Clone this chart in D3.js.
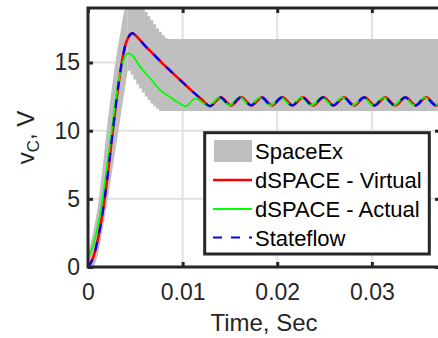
<!DOCTYPE html>
<html>
<head>
<meta charset="utf-8">
<script src="https://cdn.jsdelivr.net/npm/d3@7"></script>
<style>
  body { margin: 0; background: #fff; }
  svg { display: block; font-family: "Liberation Sans", Arial, Helvetica, sans-serif; }
</style>
</head>
<body>
<div id="chart"></div>
<script>
// ticks
const xTicks = [0, 0.01, 0.02, 0.03];
const yTicks = [0, 5, 10, 15];
const legendLabels = ["SpaceEx", "dSPACE - Virtual", "dSPACE - Actual", "Stateflow"];

// SpaceEx reach set: smooth rising part
const riseT  = [0, 0.0005, 0.001, 0.0015, 0.002, 0.0025, 0.003, 0.0035, 0.0039, 0.0042];
const riseLo = [0, 0, 0.8, 2.6, 4.6, 6.8, 9.0, 11.3, 13.1, 14.4];
const riseHi = [1.0, 2.4, 4.3, 7.0, 10.2, 13.0, 15.5, 17.5, 19.0, 19.5];

// SpaceEx reach set: stair part (step after)
const stepT  = [0.0042, 0.0045, 0.0048, 0.0051, 0.0054, 0.0057, 0.0060, 0.0063, 0.0066, 0.0069, 0.0072, 0.0075, 0.0078, 0.0081, 0.0084, 0.0372];
const stepLo = [14.4, 14.1, 13.75, 13.4, 13.1, 12.8, 12.5, 12.25, 12.0, 11.8, 11.6, 11.45, 11.45, 11.45, 11.45, 11.45];
const stepHi = [19.5, 19.5, 19.5, 19.5, 19.5, 18.95, 18.7, 18.4, 18.1, 17.8, 17.5, 17.25, 17.0, 16.8, 16.72, 16.72];

// dSPACE - Virtual
const virtT = [0, 0.0005, 0.001, 0.0015, 0.002, 0.0025, 0.003, 0.0035, 0.004, 0.0044, 0.0047, 0.005, 0.006, 0.007, 0.008, 0.009, 0.010, 0.011, 0.012, 0.0129,
  0.01403, 0.01512, 0.0162, 0.01729, 0.01837, 0.01946, 0.02054, 0.02163, 0.02271, 0.0238, 0.02488, 0.02597, 0.02705, 0.02814, 0.02922, 0.03031, 0.03139, 0.03248, 0.03356, 0.03465, 0.03573, 0.03682, 0.0372];
const virtV = [0, 0.6, 1.9, 3.8, 6.3, 9.3, 12.2, 14.7, 16.4, 17.0, 17.15, 17.0, 16.25, 15.55, 14.85, 14.2, 13.55, 12.9, 12.3, 11.8,
  12.44, 11.85, 12.44, 11.85, 12.44, 11.85, 12.44, 11.85, 12.44, 11.85, 12.44, 11.85, 12.44, 11.85, 12.44, 11.85, 12.44, 11.85, 12.44, 11.85, 12.44, 11.85, 12.0];

// dSPACE - Actual
const actT = [0, 0.0005, 0.001, 0.0015, 0.002, 0.0025, 0.003, 0.0035, 0.0039, 0.0043, 0.0047, 0.0055, 0.0065, 0.0076, 0.0087, 0.0097, 0.01034, 0.01132, 0.0128,
  0.01386, 0.01495, 0.01603, 0.01712, 0.0182, 0.01929, 0.02037, 0.02146, 0.02254, 0.02363, 0.02471, 0.0258, 0.02688, 0.02797, 0.02905, 0.03014, 0.03122, 0.03231, 0.03339, 0.03448, 0.03556, 0.03665, 0.0372];
const actV = [0.7, 1.5, 2.9, 4.8, 7.3, 10.0, 12.6, 14.6, 15.4, 15.67, 15.5, 14.7, 13.9, 13.0, 12.45, 12.0, 11.78, 12.35, 11.82,
  12.44, 11.85, 12.44, 11.85, 12.44, 11.85, 12.44, 11.85, 12.44, 11.85, 12.44, 11.85, 12.44, 11.85, 12.44, 11.85, 12.44, 11.85, 12.44, 11.85, 12.44, 11.85, 12.1];

// Stateflow
const sfT = [0, 0.0005, 0.001, 0.0015, 0.002, 0.0025, 0.003, 0.0035, 0.004, 0.0044, 0.0047, 0.005, 0.006, 0.007, 0.008, 0.009, 0.010, 0.011, 0.012, 0.0129,
  0.01397, 0.01506, 0.01614, 0.01723, 0.01831, 0.0194, 0.02048, 0.02157, 0.02265, 0.02374, 0.02482, 0.02591, 0.02699, 0.02808, 0.02916, 0.03025, 0.03133, 0.03242, 0.0335, 0.03459, 0.03567, 0.03676, 0.0372];
const sfV = [0, 0.6, 1.9, 3.8, 6.3, 9.3, 12.2, 14.7, 16.4, 17.0, 17.15, 17.0, 16.25, 15.55, 14.85, 14.2, 13.55, 12.9, 12.3, 11.8,
  12.44, 11.85, 12.44, 11.85, 12.44, 11.85, 12.44, 11.85, 12.44, 11.85, 12.44, 11.85, 12.44, 11.85, 12.44, 11.85, 12.44, 11.85, 12.44, 11.85, 12.44, 11.85, 12.02];

const W = 438, H = 338;
const plot = { left: 88, right: 440, top: 8, bottom: 267 };
const ink = "#262626";

const x = d3.scaleLinear().domain([0, 0.0372]).range([plot.left, plot.right]);
const y = d3.scaleLinear().domain([0, 19]).range([plot.bottom, plot.top]);

const svg = d3.select("#chart").append("svg")
  .attr("width", W).attr("height", H);

svg.append("defs").append("clipPath").attr("id", "plotClip")
  .append("rect")
  .attr("x", plot.left).attr("y", plot.top)
  .attr("width", plot.right - plot.left).attr("height", plot.bottom - plot.top);

/* grid (under data) */
const grid = svg.append("g");
grid.selectAll(".gx").data(xTicks.slice(1)).enter().append("line")
  .attr("x1", d => x(d)).attr("x2", d => x(d))
  .attr("y1", plot.top).attr("y2", plot.bottom)
  .attr("stroke", "#e1e1e1").attr("stroke-width", 2);
grid.selectAll(".gy").data(yTicks.slice(1)).enter().append("line")
  .attr("x1", plot.left).attr("x2", plot.right)
  .attr("y1", d => y(d)).attr("y2", d => y(d))
  .attr("stroke", "#e1e1e1").attr("stroke-width", 2);

/* axes */
function styleAxis(g) {
  g.attr("font-family", null).attr("font-size", 23);
  g.select(".domain").remove();
  g.selectAll(".tick line").attr("stroke", ink).attr("stroke-width", 3);
  g.selectAll(".tick text").attr("fill", ink);
}
svg.append("g")
  .attr("transform", `translate(0,${plot.bottom})`)
  .call(d3.axisBottom(x).tickValues(xTicks).tickFormat(d => String(d))
    .tickSizeInner(-5).tickSizeOuter(0).tickPadding(17))
  .call(styleAxis);
svg.append("g")
  .attr("transform", `translate(${plot.left},0)`)
  .call(d3.axisLeft(y).tickValues(yTicks).tickFormat(d => String(d))
    .tickSizeInner(-5).tickSizeOuter(0).tickPadding(8))
  .call(styleAxis);
svg.append("g")
  .attr("transform", `translate(0,${plot.top})`)
  .call(d3.axisTop(x).tickValues(xTicks).tickFormat("")
    .tickSizeInner(-5).tickSizeOuter(0))
  .call(styleAxis);
svg.append("g")
  .attr("transform", `translate(${plot.right},0)`)
  .call(d3.axisRight(y).tickValues(yTicks).tickFormat("")
    .tickSizeInner(-5).tickSizeOuter(0))
  .call(styleAxis);

/* data */
const data = svg.append("g").attr("clip-path", "url(#plotClip)");

const rise = riseT.map((t, i) => ({ t: t, lo: riseLo[i], hi: riseHi[i] }));
const steps = stepT.map((t, i) => ({ t: t, lo: stepLo[i], hi: stepHi[i] }));

data.append("path")
  .datum(rise)
  .attr("fill", "#bfbfbf")
  .attr("d", d3.area().x(d => x(d.t)).y0(d => y(d.lo)).y1(d => y(d.hi)).curve(d3.curveMonotoneX));
data.append("path")
  .datum(steps)
  .attr("fill", "#bfbfbf")
  .attr("d", d3.area().x(d => x(d.t)).y0(d => y(d.lo)).y1(d => y(d.hi)).curve(d3.curveStepAfter));

const line = d3.line().x(d => x(d[0])).y(d => y(d[1])).curve(d3.curveMonotoneX);

data.append("path")
  .datum(virtT.map((t, i) => [t, virtV[i]]))
  .attr("fill", "none").attr("stroke", "#ff0000").attr("stroke-width", 2.6)
  .attr("d", line);
data.append("path")
  .datum(actT.map((t, i) => [t, actV[i]]))
  .attr("fill", "none").attr("stroke", "#00ff00").attr("stroke-width", 1.8)
  .attr("d", line);
data.append("path")
  .datum(sfT.map((t, i) => [t, sfV[i]]))
  .attr("fill", "none").attr("stroke", "#0000ff").attr("stroke-width", 2.2)
  .attr("stroke-dasharray", "9,9")
  .attr("d", line);

/* box on top */
svg.append("rect")
  .attr("x", plot.left).attr("y", plot.top)
  .attr("width", plot.right - plot.left).attr("height", plot.bottom - plot.top)
  .attr("fill", "none").attr("stroke", ink).attr("stroke-width", 3);

/* labels */
svg.append("text")
  .attr("x", (plot.left + plot.right) / 2).attr("y", 330.5)
  .attr("text-anchor", "middle").attr("font-size", 24).attr("fill", ink)
  .text("Time, Sec");

const ylab = svg.append("text")
  .attr("transform", `translate(34,${(plot.top + plot.bottom) / 2}) rotate(-90)`)
  .attr("text-anchor", "middle").attr("font-size", 24).attr("fill", ink);
ylab.append("tspan").text("v");
ylab.append("tspan").attr("font-size", 17).attr("dy", 5).text("C");
ylab.append("tspan").attr("dy", -5).text(", V");

/* legend */
const lg = svg.append("g");
lg.append("rect")
  .attr("x", 204.7).attr("y", 132.7).attr("width", 224.6).attr("height", 121.3)
  .attr("fill", "#fff").attr("stroke", ink).attr("stroke-width", 3);
const rowY = [151, 180, 209, 237.5];
lg.append("rect").attr("x", 214).attr("y", rowY[0] - 11).attr("width", 38).attr("height", 22)
  .attr("fill", "#bfbfbf");
lg.append("line").attr("x1", 213).attr("x2", 252).attr("y1", rowY[1]).attr("y2", rowY[1])
  .attr("stroke", "#ff0000").attr("stroke-width", 2.6);
lg.append("line").attr("x1", 213).attr("x2", 252).attr("y1", rowY[2]).attr("y2", rowY[2])
  .attr("stroke", "#00ff00").attr("stroke-width", 1.8);
lg.append("line").attr("x1", 213).attr("x2", 252).attr("y1", rowY[3]).attr("y2", rowY[3])
  .attr("stroke", "#0000ff").attr("stroke-width", 2.2).attr("stroke-dasharray", "9,9");
lg.selectAll(".lt").data(legendLabels).enter().append("text")
  .attr("x", 255).attr("y", (d, i) => rowY[i] + 8)
  .attr("font-size", 22).attr("fill", "#000")
  .text(d => d);
</script>
</body>
</html>
